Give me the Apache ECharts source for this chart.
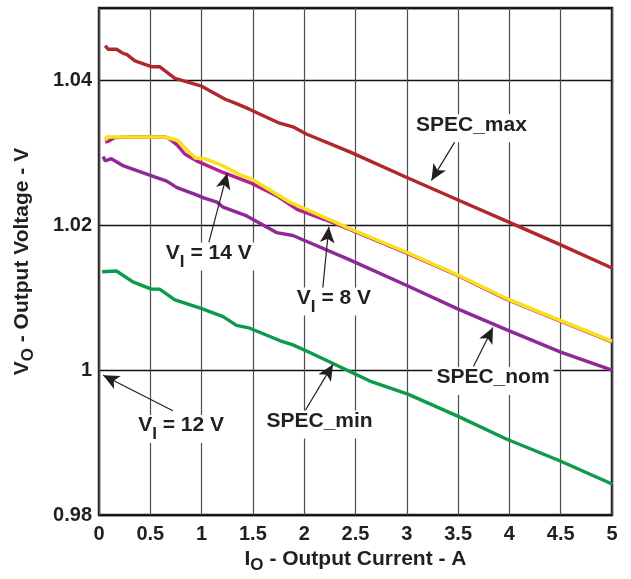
<!DOCTYPE html>
<html>
<head>
<meta charset="utf-8">
<script src="https://cdn.jsdelivr.net/npm/echarts@6/dist/echarts.min.js"></script>
<style>
  html, body { margin: 0; padding: 0; background: #fff; }
  #chartDom { width: 631px; height: 579px; }
</style>
</head>
<body>
<div id="chartDom"></div>
<script>
// output current (A) / output voltage (V)
const specMaxX = [0.06, 0.09, 0.17, 0.24, 0.27, 0.35, 0.51, 0.59, 0.74, 1.0, 1.23, 1.34, 1.47, 1.76, 1.89, 2.02, 2.45, 3.0, 3.5, 4.0, 4.5, 5.0]
const specMaxY = [1.0448, 1.0443, 1.0443, 1.0437, 1.0436, 1.0427, 1.0419, 1.0419, 1.0403, 1.0392, 1.0374, 1.0368, 1.0360, 1.0341, 1.0336, 1.0326, 1.0301, 1.0266, 1.0235, 1.0204, 1.0173, 1.0141]

const vi14X = [0.06, 0.09, 0.15, 0.3, 0.64, 0.68, 0.76, 0.84, 0.95, 1.21, 1.47, 1.73, 1.93, 2.2, 2.45, 3.01, 3.49, 3.97, 4.49, 5.0]
const vi14Y = [1.0315, 1.0316, 1.0321, 1.0322, 1.0322, 1.0320, 1.0311, 1.0298, 1.0289, 1.0273, 1.0259, 1.0241, 1.0222, 1.0208, 1.0194, 1.0161, 1.0131, 1.0098, 1.0068, 1.0039]

const vi8X = [0.06, 0.075, 0.3, 0.64, 0.77, 0.85, 0.94, 1.03, 1.21, 1.37, 1.50, 1.86, 2.45, 3.01, 3.49, 3.97, 4.49, 5.0]
const vi8Y = [1.0317, 1.0322, 1.0322, 1.0322, 1.0317, 1.0305, 1.0293, 1.0292, 1.0282, 1.0270, 1.0263, 1.0232, 1.0195, 1.0162, 1.0132, 1.0099, 1.0069, 1.0040]

const specNomX = [0.04, 0.06, 0.12, 0.24, 0.50, 0.66, 0.76, 0.95, 1.02, 1.15, 1.21, 1.44, 1.73, 1.89, 2.45, 3.0, 3.49, 3.97, 4.5, 5.0]
const specNomY = [1.0295, 1.0289, 1.0292, 1.0282, 1.0269, 1.0261, 1.0252, 1.0242, 1.0238, 1.0232, 1.0225, 1.0213, 1.0190, 1.0186, 1.0152, 1.0117, 1.0085, 1.0056, 1.0025, 1.0000]

const specMinX = [0.03, 0.17, 0.33, 0.51, 0.59, 0.74, 0.98, 1.21, 1.34, 1.47, 1.76, 1.89, 2.06, 2.45, 2.64, 3.01, 3.49, 3.97, 4.49, 5.0]
const specMinY = [1.0136, 1.0137, 1.0122, 1.0112, 1.0112, 1.0097, 1.0086, 1.0074, 1.0062, 1.0058, 1.0041, 1.0035, 1.0024, 0.9998, 0.9985, 0.9967, 0.9937, 0.9905, 0.9875, 0.9843]

const xTicks = { min: 0, max: 5, interval: 0.5 }
const yTicks = { min: 0.98, max: 1.05, interval: 0.02 }

const FONT = '"Liberation Sans", Arial, sans-serif'
const INK = '#231f20'

function pairs (xs, ys) {
  return xs.map((x, i) => [x, ys[i]])
}

// rich styles, subscript = same-ish size pushed down
const richName = {
  a: { fontFamily: FONT, fontWeight: 'bold', fontSize: 21, color: INK, lineHeight: 25, verticalAlign: 'top' },
  s: { fontFamily: FONT, fontWeight: 'bold', fontSize: 17, color: INK, lineHeight: 25, verticalAlign: 'bottom' }
}
const richNote = {
  a: { fontFamily: FONT, fontWeight: 'bold', fontSize: 21, color: INK, lineHeight: 28, verticalAlign: 'top' },
  s: { fontFamily: FONT, fontWeight: 'bold', fontSize: 17, color: INK, lineHeight: 28, verticalAlign: 'bottom' }
}

function note (x, y, text) {
  return { coord: [x, y], value: text, label: { formatter: text } }
}

const canvasChart = echarts.init(document.getElementById('chartDom'), null, { renderer: 'canvas' })

const option = {
  backgroundColor: '#fff',
  animation: false,
  grid: {
    left: 99,
    right: 19,
    top: 8,
    bottom: 62,
    show: true,
    borderColor: INK,
    borderWidth: 2.5,
    backgroundColor: 'transparent'
  },
  xAxis: {
    type: 'value',
    min: xTicks.min,
    max: xTicks.max,
    interval: xTicks.interval,
    name: '{a|I}{s|O}{a| - Output Current - A}',
    nameLocation: 'middle',
    nameGap: 28,
    nameTextStyle: { rich: richName },
    axisLine: { show: false },
    axisTick: { show: false },
    axisLabel: { color: INK, fontFamily: FONT, fontWeight: 'bold', fontSize: 20, margin: 9 },
    splitLine: { show: true, lineStyle: { color: '#4d4d4d', width: 1.2 } }
  },
  yAxis: {
    type: 'value',
    min: yTicks.min,
    max: yTicks.max,
    interval: yTicks.interval,
    name: '{a|V}{s|O}{a| - Output Voltage - V}',
    nameLocation: 'middle',
    nameGap: 62,
    nameRotate: 90,
    nameTextStyle: { rich: richName },
    axisLine: { show: false },
    axisTick: { show: false },
    axisLabel: { color: INK, fontFamily: FONT, fontWeight: 'bold', fontSize: 20, margin: 7, showMaxLabel: false },
    splitLine: { show: true, lineStyle: { color: '#111', width: 1.3 } }
  },
  series: [
    {
      name: 'SPEC_max',
      type: 'line',
      data: pairs(specMaxX, specMaxY),
      showSymbol: false,
      lineStyle: { color: '#b1272d', width: 3.4 },
      z: 3
    },
    {
      name: 'V_I = 14 V',
      type: 'line',
      data: pairs(vi14X, vi14Y),
      showSymbol: false,
      lineStyle: { color: '#b3218e', width: 3.4 },
      z: 3
    },
    {
      name: 'V_I = 8 V',
      type: 'line',
      data: pairs(vi8X, vi8Y),
      showSymbol: false,
      lineStyle: { color: '#f7e11c', width: 3.6 },
      z: 4
    },
    {
      name: 'SPEC_nom',
      type: 'line',
      data: pairs(specNomX, specNomY),
      showSymbol: false,
      lineStyle: { color: '#8e2a97', width: 3.4 },
      z: 3
    },
    {
      name: 'SPEC_min',
      type: 'line',
      data: pairs(specMinX, specMinY),
      showSymbol: false,
      lineStyle: { color: '#0d9a4b', width: 3.4 },
      z: 3
    },
    {
      // annotations: arrows and callout texts
      name: 'notes',
      type: 'line',
      data: [],
      z: 5,
      markLine: {
        silent: true,
        animation: false,
        symbol: ['none', 'arrow'],
        symbolSize: [11, 16],
        label: { show: false },
        lineStyle: { color: INK, width: 1.2, type: 'solid' },
        data: [
          [{ coord: [3.48, 1.0318] }, { coord: [3.24, 1.0262] }],
          [{ coord: [1.07, 1.0176] }, { coord: [1.25, 1.0272] }],
          [{ coord: [2.18, 1.0112] }, { coord: [2.24, 1.0198] }],
          [{ coord: [0.72, 0.9944] }, { coord: [0.04, 0.9993] }],
          [{ coord: [3.65, 1.0005] }, { coord: [3.84, 1.0059] }],
          [{ coord: [2.0, 0.9942] }, { coord: [2.28, 1.0008] }]
        ]
      },
      markPoint: {
        silent: true,
        animation: false,
        symbol: 'rect',
        symbolSize: 1,
        itemStyle: { color: 'rgba(0,0,0,0)' },
        label: {
          show: true,
          position: 'inside',
          backgroundColor: '#fff',
          padding: [0, 4],
          rich: richNote
        },
        data: [
          note(3.63, 1.0334, '{a|SPEC_max}'),
          note(1.07, 1.0157, '{a|V}{s|I}{a| = 14 V}'),
          note(2.29, 1.0095, '{a|V}{s|I}{a| = 8 V}'),
          note(0.80, 0.9919, '{a|V}{s|I}{a| = 12 V}'),
          note(3.84, 0.9985, '{a|SPEC_nom}'),
          note(2.15, 0.9925, '{a|SPEC_min}')
        ]
      }
    }
  ]
}

canvasChart.setOption(option)
</script>
</body>
</html>
